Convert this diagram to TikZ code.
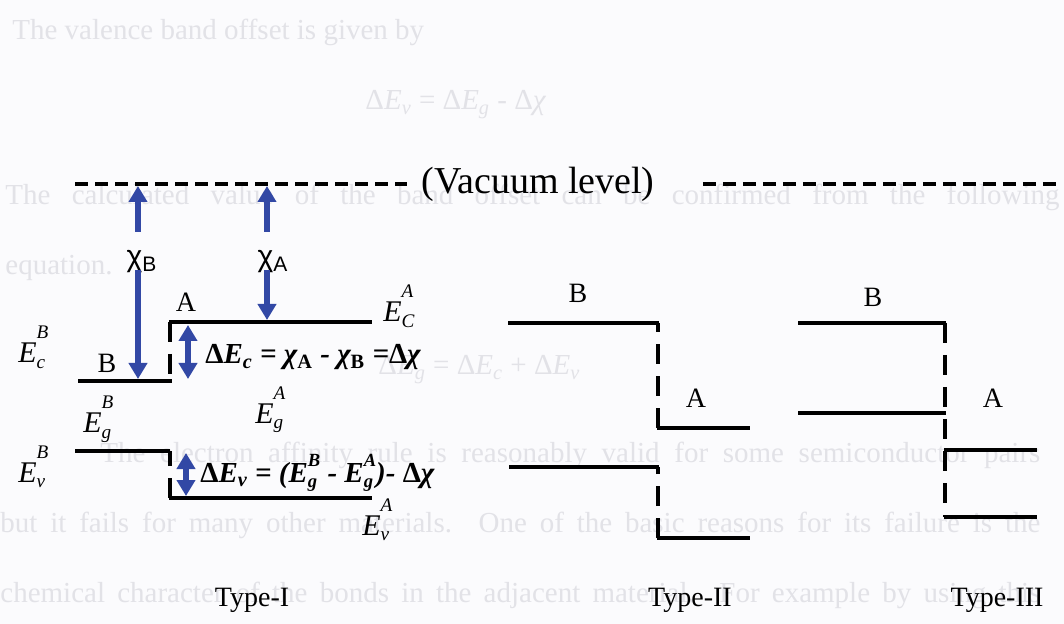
\documentclass[tikz,border=0pt]{standalone}
\usepackage{fontspec}
\setmainfont{Liberation Serif}
\newfontfamily\arialfont{Liberation Sans}
\usetikzlibrary{arrows.meta}
\definecolor{bandblue}{RGB}{50,72,165}
\definecolor{ghost}{RGB}{226,226,231}
\definecolor{paper}{RGB}{251,251,253}
\makeatletter
\newcommand{\stkraise}{.8em}
\newcommand{\stk}[2]{{\sbox0{\raisebox{\stkraise}{\fontsize{\fpeval{.64*\f@size}}{1}\selectfont#1}}%
  \sbox2{\raisebox{-.18em}{\fontsize{\fpeval{.64*\f@size}}{1}\selectfont#2}}%
  \ifdim\wd0>\wd2 \rlap{\usebox2}\usebox0\else\rlap{\usebox0}\usebox2\fi}}
\makeatother

\begin{document}
\begin{tikzpicture}[x=0.5pt,y=-0.5pt,
  level/.style={line width=2.4pt},
  iface/.style={line width=2.4pt,dash pattern=on 10pt off 6pt},
  vac/.style={line width=2.2pt,dash pattern=on 6.5pt off 3.5pt},
  chi/.style={bandblue,line width=2.6pt,-{Triangle[width=9pt,length=8pt]}},
  offs/.style={bandblue,line width=2.6pt,{Triangle[width=9pt,length=8pt]}-{Triangle[width=9pt,length=8pt]}},
  mat/.style={font=\fontsize{14}{15}\selectfont,inner sep=0pt},
  elab/.style={font=\fontsize{15}{16}\selectfont\itshape,inner sep=0pt,anchor=base west},
  eqn/.style={font=\fontsize{14.5}{16}\selectfont\bfseries\itshape,inner sep=0pt,anchor=base west},
  chilab/.style={font=\fontsize{15}{16}\selectfont\arialfont,inner sep=0pt},
  typ/.style={font=\fontsize{14}{16}\selectfont,inner sep=0pt},
  ghosttxt/.style={text=ghost,font=\fontsize{14.5}{16}\selectfont,inner sep=0pt,anchor=base west}]
  \useasboundingbox (0,0) rectangle (1064,624);
  \fill[paper] (0,0) rectangle (1064,624);

  % page text showing through
  \node[ghosttxt] (g1) at (12,40) {The valence band offset is given by};
  \node[ghosttxt] (g2) at (365,110) {Δ\textit{E}\textsubscript{\itshape v} = Δ\textit{E}\textsubscript{\itshape g} - Δ\textit{χ}};
  \node[ghosttxt] (g3) at (5,205) {\makebox[527pt][s]{The calculated value of the band offset can be confirmed from the following}};
  \node[ghosttxt] (g4) at (5,275) {equation.};
  \node[ghosttxt] (g5) at (378,375) {Δ\textit{E}\textsubscript{\itshape g} = Δ\textit{E}\textsubscript{\itshape c} + Δ\textit{E}\textsubscript{\itshape v}};
  \node[ghosttxt] (g6) at (100,462) {\makebox[470pt][s]{The electron affinity rule is reasonably valid for some semiconductor pairs}};
  \node[ghosttxt] (g7) at (0,532) {\makebox[520pt][s]{but it fails for many other materials. One of the basic reasons for its failure is the}};
  \node[ghosttxt] (g8) at (0,602) {\makebox[520pt][s]{chemical character of the bonds in the adjacent material. For example by using this}};

  % vacuum level
  \node[font=\fontsize{19}{20}\selectfont,inner sep=0pt,anchor=west] (vac) at (421,184) {(Vacuum level)};
  \coordinate (vacL) at (75,184);
  \coordinate (vacR) at (1058,184);
  \draw[vac] (vacL) -- ([xshift=-7pt]vac.west);
  \draw[vac] ([xshift=24pt]vac.east) -- (vacR);

  % Type-I
  \draw[level] (78,381) -- (172,381);
  \draw[level] (169,322) -- (372,322);
  \draw[iface] (170,322) -- (170,381);
  \draw[level] (75,451) -- (170,451);
  \draw[level] (169,498) -- (372,498);
  \draw[iface] (170,498) -- (170,451);

  \node[chilab] (chiB) at (142,262) {χ\textsubscript{B}};
  \node[chilab] (chiA) at (273,262) {χ\textsubscript{A}};
  \coordinate (vB) at (138,186);
  \coordinate (vA) at (267,186);
  \coordinate (cB) at (138,379);
  \coordinate (cA) at (267,320);
  \coordinate (chiBup) at (138,232);
  \coordinate (chiBdn) at (138,270);
  \coordinate (chiAup) at (267,232);
  \coordinate (chiAdn) at (267,270);
  \draw[chi] (chiBup) -- (vB);
  \draw[chi] (chiBdn) -- (cB);
  \draw[chi] (chiAup) -- (vA);
  \draw[chi] (chiAdn) -- (cA);
  \coordinate (dEcT) at (188,325);
  \coordinate (dEcB) at (188,379);
  \coordinate (dEvT) at (186,453);
  \coordinate (dEvB) at (186,496);
  \draw[offs] (dEcT) -- (dEcB);
  \draw[offs] (dEvT) -- (dEvB);

  \node[mat] (B1) at (107,363) {B};
  \node[mat] (A1) at (186,302) {A};
  \node[elab] (EcB) at (18,363) {E\stk{B}{c}};
  \node[elab] (EvB) at (18,482) {E\stk{B}{v}};
  \node[elab] (EgB) at (83,433) {E\stk{B}{g}};
  \node[elab] (EgA) at (255,423) {E\stk{A}{g}};
  \node[elab] (EcA) at (383,322) {E\stk{A}{C}};
  \node[elab] (EvA) at (362,535) {E\stk{A}{v}};
  \node[eqn] (dEc) at (205,364) {{\upshape Δ}E\textsubscript{c} = χ\textsubscript{\upshape A} - χ\textsubscript{\upshape B} ={\upshape Δ}χ};
  \node[eqn] (dEv) at (200,482) {\renewcommand{\stkraise}{.55em}{\upshape Δ}E\textsubscript{v} = (E\stk{B}{g}\ - E\stk{A}{g})- {\upshape Δ}χ};
  \node[typ] (t1) at (252,600) {Type-I};

  % Type-II
  \draw[level] (508,323) -- (659,323);
  \draw[iface] (658,428) -- (658,323);
  \draw[level] (657,428) -- (750,428);
  \draw[level] (509,467) -- (659,467);
  \draw[iface] (658,538) -- (658,467);
  \draw[level] (657,538) -- (750,538);
  \node[mat] (B2) at (578,293) {B};
  \node[mat] (A2) at (696,398) {A};
  \node[typ] (t2) at (690,600) {Type-II};

  % Type-III
  \draw[level] (798,323) -- (946,323);
  \draw[iface] (945,323) -- (945,517);
  \draw[level] (798,413) -- (946,413);
  \draw[level] (944,450) -- (1037,450);
  \draw[level] (944,517) -- (1037,517);
  \node[mat] (B3) at (873,297) {B};
  \node[mat] (A3) at (993,398) {A};
  \node[typ] (t3) at (997,600) {Type-III};
\end{tikzpicture}
\end{document}
